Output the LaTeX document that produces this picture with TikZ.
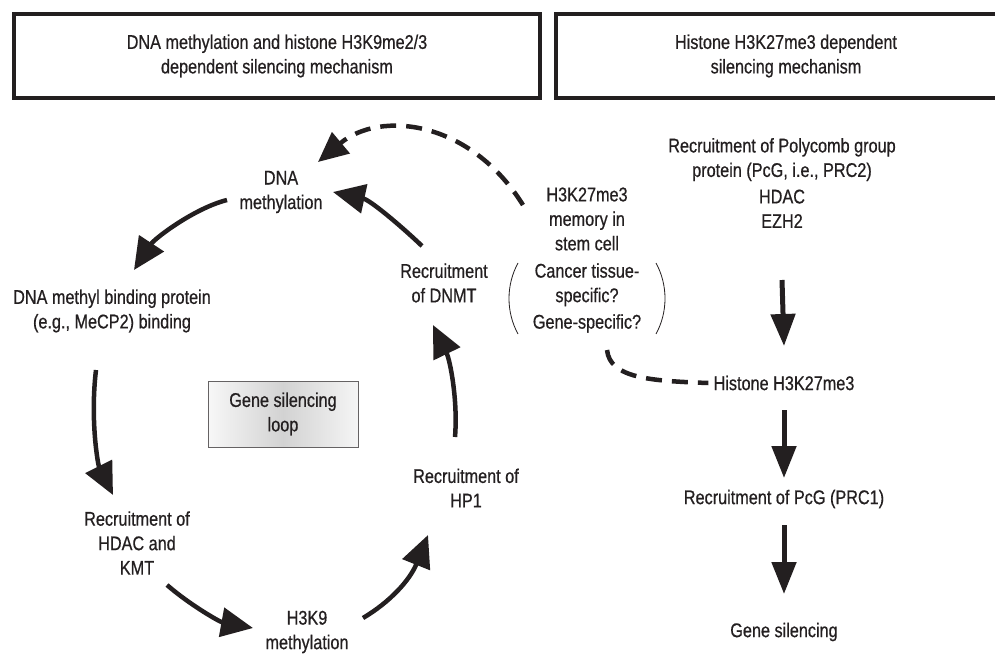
\documentclass[tikz,border=0pt]{standalone}
\usepackage{fontspec}
\setmainfont[FakeStretch=0.82,FakeBold=0.6]{Liberation Sans}
\usetikzlibrary{arrows.meta}
\definecolor{ink}{HTML}{231F20}
\begin{document}
\begin{tikzpicture}[x=1pt,y=-1pt,
  txt/.style={align=center, text=ink, font=\fontsize{19.8}{24.5}\selectfont, inner sep=1pt},
  hdr/.style={txt, draw=ink, line width=3.5pt, minimum height=84pt},
  loopar/.style={line width=4.5pt, draw=ink, -{Triangle[length=32pt,width=29pt]}},
  downar/.style={line width=5pt, draw=ink, -{Triangle[length=32pt,width=24pt]}},
  dsh/.style={line width=4.5pt, draw=ink, dash pattern=on 16pt off 10pt},
  paren/.style={line width=0.8pt, draw=ink},
]
\useasboundingbox (0,0) rectangle (995,666);

% headers
\node[hdr, minimum width=526pt] (h1) at (277,56) {DNA methylation and histone H3K9me2/3\\dependent silencing mechanism};
\node[hdr, minimum width=460pt] (h2) at (786,56) {Histone H3K27me3 dependent\\silencing mechanism};

% loop nodes
\node[txt] (dna) at (281,192) {DNA\\methylation};
\node[txt] (mbp) at (112,311) {DNA methyl binding protein\\(e.g., MeCP2) binding};
\node[txt] (hdac) at (137,543) {Recruitment of\\HDAC and\\KMT};
\node[txt] (h3k9) at (307,632) {H3K9\\methylation};
\node[txt] (hp1) at (466,488) {Recruitment of\\HP1};
\node[txt] (dnmt) at (444,283) {Recruitment\\of DNMT};
\node[txt, draw=ink!70, line width=1pt, minimum width=150pt, minimum height=66pt,
      left color=gray!6, right color=gray!8, middle color=gray!35] (loopbox) at (283,414) {Gene silencing\\loop};

% middle
\node[txt] (mem) at (587,219) {H3K27me3\\memory in\\stem cell};
\node[txt] (spec) at (587,298) {Cancer tissue-\\specific?\\[2pt]Gene-specific?};

% right column
\node[txt] (prc2) at (782,183) {Recruitment of Polycomb group\\protein (PcG, i.e., PRC2)\\[2pt]HDAC\\EZH2};
\node[txt] (k27) at (784,383) {Histone H3K27me3};
\node[txt] (prc1) at (784,499) {Recruitment of PcG (PRC1)};
\node[txt] (gs) at (784,632) {Gene silencing};

% loop arrows
\draw[loopar] ([shift={(-54,8)}]dna.center) .. controls (195,208) and (155,238) .. ([shift={(22,-41)}]mbp.center);
\draw[loopar] ([shift={(-16,59)}]mbp.center) .. controls (90,420) and (98,465) .. ([shift={(-24,-48)}]hdac.center);
\draw[loopar] ([shift={(30,42)}]hdac.center) .. controls (190,605) and (220,622) .. ([shift={(-54,-4)}]h3k9.center);
\draw[loopar] ([shift={(56,-14)}]h3k9.center) .. controls (390,602) and (410,580) .. ([shift={(-38,47)}]hp1.center);
\draw[loopar] ([shift={(-11,-51)}]hp1.center) .. controls (458,400) and (450,360) .. ([shift={(-11,42)}]dnmt.center);
\draw[loopar] ([shift={(-22,-37)}]dnmt.center) .. controls (400,225) and (370,200) .. ([shift={(52,0)}]dna.center);

% dashed
\draw[dsh, -{Triangle[length=30pt,width=27pt]}] ([shift={(-64,-14)}]mem.center) .. controls (470,120) and (380,110) .. ([shift={(37,-30)}]dna.center);
\draw[dsh] ([shift={(20,52)}]spec.center) .. controls (610,378) and (650,381) .. ([xshift=-4pt]k27.west);

% parentheses
\draw[paren] ([shift={(-69,-35)}]spec.center) .. controls (506,285) and (506,312) .. ([shift={(-69,36)}]spec.center);
\draw[paren] ([shift={(69,-35)}]spec.center) .. controls (668,285) and (668,312) .. ([shift={(69,36)}]spec.center);

% right arrows
\draw[downar] ([shift={(0,97)}]prc2.center) -- ([shift={(0,-37)}]k27.center);
\draw[downar] ([shift={(0,27)}]k27.center) -- ([shift={(0,-21)}]prc1.center);
\draw[downar] ([shift={(0,26)}]prc1.center) -- ([shift={(0,-38)}]gs.center);
\end{tikzpicture}
\end{document}
